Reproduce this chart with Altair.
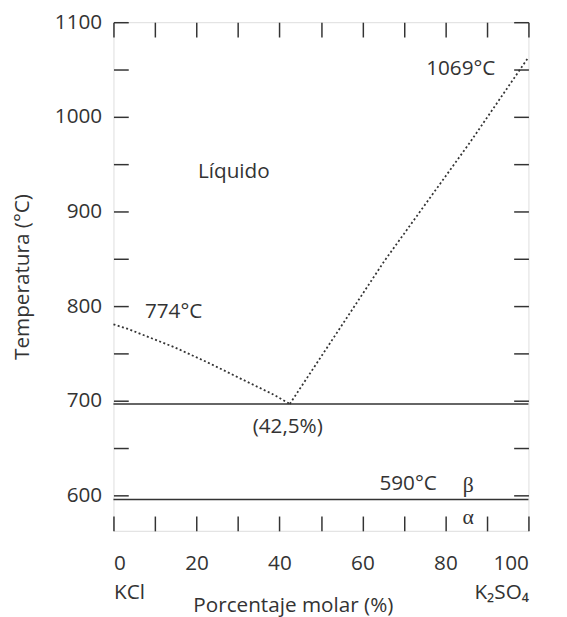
import altair as alt
import pandas as pd

# ---- data ----
x_tick_values = list(range(0, 101, 10))
y_tick_values = list(range(600, 1101, 50))

left_x = [0, 3.6, 14.6, 22.6, 30.5, 38.5, 42.5]
left_t = [781, 776, 757, 741, 724, 707, 697]
right_x = [42.5, 65.3, 85.9, 100]
right_t = [697, 848, 973, 1063]
iso_t = [697, 596]

labels = ["Líquido", "774°C", "(42,5%)", "1069°C", "590°C"]
label_x = [29.0, 14.5, 42.0, 83.7, 71.0]
label_t = [942, 794, 673, 1051, 612]

greek = ["β", "α"]
greek_x = [85.5, 85.5]
greek_t = [611, 578]

FONT = "Open Sans"
FS = 21
INK = "#333333"

curve = pd.DataFrame({
    "x": left_x + right_x,
    "t": left_t + right_t,
    "seg": ["left"] * len(left_x) + ["right"] * len(right_x),
})
iso = pd.DataFrame({"t": iso_t})
ann = pd.DataFrame({"x": label_x, "t": label_t, "s": labels})
gr = pd.DataFrame({"x": greek_x, "t": greek_t, "s": greek})

xs = alt.Scale(domain=[0, 100], nice=False, zero=False)
ys = alt.Scale(domain=[563, 1100], nice=False, zero=False)

# layer 1: horizontal isotherms, carries left axis (labels + inward ticks)
l1 = alt.Chart(iso).mark_rule(color=INK, strokeWidth=1.5).encode(
    y=alt.Y("t:Q", scale=ys, axis=alt.Axis(
        orient="left", values=y_tick_values, offset=-15, tickSize=15,
        tickWidth=1.5, tickColor=INK, domain=False, grid=False,
        labelExpr="datum.value % 100 == 0 ? datum.label : ''",
        labelPadding=12, labelFont=FONT, labelFontSize=FS, labelColor=INK,
        format="d", title="Temperatura (°C)", titleFont=FONT, titleFontSize=FS,
        titleColor=INK, titleFontWeight="normal", titlePadding=22)),
)

bottom_axis = alt.Axis(
    orient="bottom", values=x_tick_values, offset=-15, tickSize=15,
    tickWidth=1.5, tickColor=INK, domain=False, grid=False,
    labelExpr="datum.value == 0 ? ['0', 'KCl'] : datum.value == 100 ? ['100', 'K₂SO₄'] : datum.value % 20 == 0 ? datum.label : ''",
    labelPadding=22, labelLineHeight=30, labelFont=FONT, labelFontSize=FS,
    labelColor=INK, title="Porcentaje molar (%)", titleFont=FONT,
    titleFontSize=FS, titleColor=INK, titleFontWeight="normal",
    titleX=182, titleY=91, titleBaseline="middle", titleAnchor="start",
    titleAlign="center")

# invisible layer carrying the bottom axis
l1b = alt.Chart(iso).transform_calculate(xa="50").mark_point(opacity=0).encode(
    x=alt.X("xa:Q", scale=xs, axis=bottom_axis),
)

# layer 2: dotted liquidus, carries top & right tick-only axes
l2 = alt.Chart(curve).mark_line(
    color=INK, strokeWidth=1.8, strokeDash=[2, 2.5], strokeCap="butt"
).encode(
    x=alt.X("x:Q", scale=xs, axis=alt.Axis(
        orient="top", values=x_tick_values, offset=-15, tickSize=15,
        tickWidth=1.5, tickColor=INK, domain=False, grid=False,
        labels=False, title=None)),
    y=alt.Y("t:Q", scale=ys, axis=alt.Axis(
        orient="right", values=y_tick_values, offset=-15, tickSize=15,
        tickWidth=1.5, tickColor=INK, domain=False, grid=False,
        labels=False, title=None)),
    detail="seg:N",
)

l3 = alt.Chart(ann).mark_text(
    font=FONT, fontSize=FS, color=INK, align="center", baseline="middle"
).encode(
    x=alt.X("x:Q", scale=xs, axis=None),
    y=alt.Y("t:Q", scale=ys, axis=None),
    text="s:N",
)

l4 = alt.Chart(gr).mark_text(
    font="Liberation Serif", fontSize=22, color=INK, align="center", baseline="middle"
).encode(
    x=alt.X("x:Q", scale=xs, axis=None),
    y=alt.Y("t:Q", scale=ys, axis=None),
    text="s:N",
)

chart = alt.layer(l1, l1b, l2, l3, l4).resolve_axis(
    x="independent", y="independent"
).properties(
    width=421, height=516,
    padding={"left": 107, "top": 10, "right": 31, "bottom": 83},
    autosize=alt.AutoSizeParams(type="none"),
).configure_view(stroke=INK, strokeWidth=1.5).configure(background="white")

chart.save("out.html", embed_options={"renderer": "svg", "actions": False})
